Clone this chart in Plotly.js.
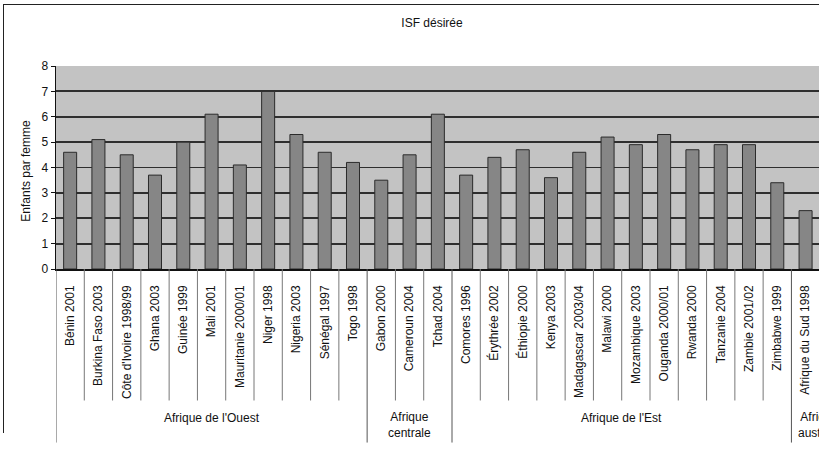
<!DOCTYPE html>
<html>
<head>
<meta charset="utf-8">
<script src="https://cdn.plot.ly/plotly-3.0.1.min.js"></script>
<style>
  html, body { margin: 0; padding: 0; overflow: hidden; background: #fff; }
  #wrap { position: relative; width: 860px; height: 454px; }
  #chart { position: absolute; left: 0; top: 0; }
  #frame { position: absolute; left: 3px; top: 4px; width: 900px; height: 428px;
           border-top: 1.5px solid #222; border-left: 1.5px solid #222; pointer-events: none; }
</style>
</head>
<body>
<div id="wrap">
  <div id="chart"></div>
  <div id="frame"></div>
</div>
<script>
// Desired total fertility (ISF désirée) by survey, grouped by region
const countries = [
  'Bénin 2001', 'Burkina Faso 2003', "Côte d'Ivoire 1998/99", 'Ghana 2003', 'Guinée 1999',
  'Mali 2001', 'Mauritanie 2000/01', 'Niger 1998', 'Nigeria 2003', 'Sénégal 1997', 'Togo 1998',
  'Gabon 2000', 'Cameroun 2004', 'Tchad 2004',
  'Comores 1996', 'Érythrée 2002', 'Éthiopie 2000', 'Kenya 2003', 'Madagascar 2003/04',
  'Malawi 2000', 'Mozambique 2003', 'Ouganda 2000/01', 'Rwanda 2000', 'Tanzanie 2004',
  'Zambie 2001/02', 'Zimbabwe 1999',
  'Afrique du Sud 1998'
];
const isfDesiree = [
  4.6, 5.1, 4.5, 3.7, 5.0, 6.1, 4.1, 7.0, 5.3, 4.6, 4.2,
  3.5, 4.5, 6.1,
  3.7, 4.4, 4.7, 3.6, 4.6, 5.2, 4.9, 5.3, 4.7, 4.9, 4.9, 3.4,
  2.3
];
const regions = ["Afrique de l'Ouest", 'Afrique<br>centrale', "Afrique de l'Est", 'Afrique<br>australe'];
const regionCounts = [11, 3, 12, 1];
const yTicks = [0, 1, 2, 3, 4, 5, 6, 7, 8];

const FONT = '"Liberation Sans", Arial, sans-serif';
const W = 860, H = 454;
const M = { l: 55.5, r: 12, t: 66, b: 185.3 };
const plotH = H - M.t - M.b;
const xEnd = countries.length + 0.5;   // axis runs one slot past the last survey
const pyToPaper = py => (H - M.b - py) / plotH;

// Divider lines of the category table under the axis
const shapes = [];
const catBottom = pyToPaper(400);
const groupBottom = pyToPaper(442);
const groupStarts = new Set();
let acc = 0;
regionCounts.forEach(c => { groupStarts.add(acc); acc += c; });
for (let i = 0; i <= countries.length; i++) {
  const isGroup = groupStarts.has(i);
  shapes.push({
    type: 'line', xref: 'x', yref: 'paper',
    x0: i - 0.5, x1: i - 0.5, y0: 0, y1: isGroup ? groupBottom : catBottom,
    line: { color: isGroup ? '#555' : '#777', width: 1 }, layer: 'above'
  });
}

// Region labels centred under their surveys
const annotations = [];
let start = 0;
regions.forEach((name, k) => {
  const last = k === regions.length - 1;
  const end = last ? xEnd - 0.5 : start + regionCounts[k] - 1;
  const twoLines = name.includes('<br>');
  annotations.push({
    text: name, xref: 'x', yref: 'paper',
    x: (start + end) / 2, y: pyToPaper(twoLines ? 424.5 : 417),
    xanchor: 'center', yanchor: 'middle', showarrow: false,
    font: { family: FONT, size: 12, color: '#111' }
  });
  start += regionCounts[k];
});
annotations.push({
  text: 'Enfants par femme', xref: 'paper', yref: 'paper',
  x: (26 - M.l) / (W - M.l - M.r), y: pyToPaper(171),
  xanchor: 'center', yanchor: 'middle', textangle: -90, showarrow: false,
  font: { family: FONT, size: 12, color: '#111' }
});

const trace = {
  type: 'bar',
  x: countries,
  y: isfDesiree,
  width: 0.46,
  marker: { color: '#868686', line: { color: '#2b2b2b', width: 1 } },
  hoverinfo: 'x+y'
};

const layout = {
  width: W, height: H,
  margin: M,
  paper_bgcolor: '#ffffff',
  plot_bgcolor: '#c3c3c3',
  showlegend: false,
  title: {
    text: 'ISF désirée',
    xref: 'container', yref: 'container',
    x: 432 / W, y: 1 - 23 / H, xanchor: 'center', yanchor: 'middle',
    font: { family: FONT, size: 12, color: '#111' }
  },
  xaxis: {
    type: 'category',
    range: [-0.5, xEnd],
    tickangle: -90,
    ticks: '',
    ticklabelstandoff: 10,
    showgrid: false,
    showline: true, linecolor: '#111', linewidth: 1.5,
    tickfont: { family: FONT, size: 12, color: '#111' },
    fixedrange: true
  },
  yaxis: {
    range: [0, 8],
    tickvals: yTicks,
    ticks: 'outside', ticklen: 4, tickcolor: '#111',
    showgrid: true, gridcolor: '#2e2e2e', gridwidth: 1.8,
    zeroline: false,
    showline: true, linecolor: '#111', linewidth: 1.5,
    tickfont: { family: FONT, size: 12, color: '#111' },
    fixedrange: true
  },
  shapes: shapes,
  annotations: annotations
};

Plotly.newPlot('chart', [trace], layout, { displayModeBar: false, staticPlot: true });
</script>
</body>
</html>
